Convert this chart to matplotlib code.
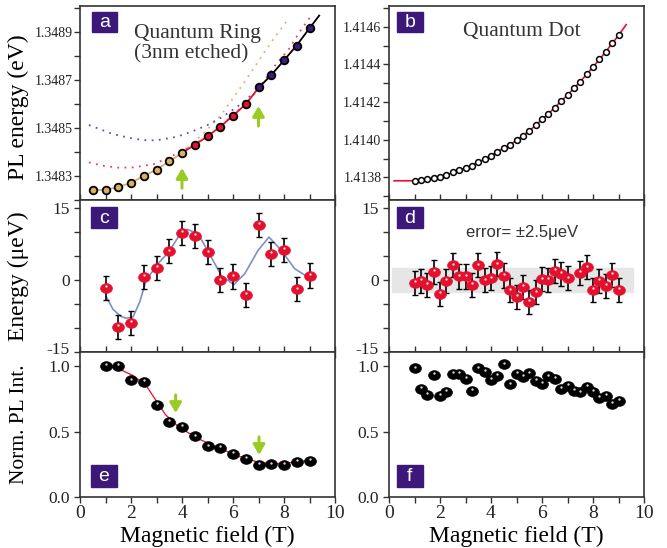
import numpy as np
import matplotlib
matplotlib.use("Agg")
import matplotlib.pyplot as plt
from matplotlib.ticker import MultipleLocator, FormatStrFormatter
from matplotlib.transforms import offset_copy, ScaledTranslation

plt.rcParams['font.family'] = ['Liberation Serif', 'DejaVu Serif']

# ---- panel a : quantum ring PL energy (eV) ----
ring_b = [0.5, 1.0, 1.5, 2.0, 2.5, 3.0, 3.5, 4.0, 4.5, 5.0, 5.5, 6.0,
          6.5, 7.0, 7.5, 8.0, 8.5, 9.0]
ring_e = [1.348242, 1.348243, 1.348254, 1.348271, 1.348301, 1.348326,
          1.348361, 1.348397, 1.348430, 1.348466, 1.348506, 1.348552,
          1.348599, 1.348670, 1.348722, 1.348783, 1.348845, 1.348917]
ring_state = ["t"] * 8 + ["r"] * 5 + ["p"] * 5

# dotted fit branches
fit_tan_b = [4.0, 4.5, 5.0, 5.5, 6.0, 6.5, 7.0, 7.5, 8.2]
fit_tan_e = [1.348397, 1.348445, 1.348495, 1.348550, 1.348625, 1.348700,
             1.348780, 1.348860, 1.348960]
fit_red_b = [0.35, 0.9, 1.5, 2.1, 2.9, 3.5, 4.0, 4.5, 5.5, 6.5, 7.0, 7.6,
             8.2, 8.6, 9.0]
fit_red_e = [1.348357, 1.348343, 1.348335, 1.348336, 1.348350, 1.348378,
             1.348405, 1.348432, 1.348508, 1.348602, 1.348665, 1.348755,
             1.348832, 1.348900, 1.348960]
fit_pur_b = [0.35, 1.3, 2.0, 2.5, 3.0, 3.8, 4.4, 5.0, 5.6, 6.2, 6.8]
fit_pur_e = [1.348513, 1.348475, 1.348458, 1.348450, 1.348449, 1.348464,
             1.348486, 1.348513, 1.348548, 1.348592, 1.348645]
# solid fit
sol_b = [0.5, 1.0, 1.5, 2.0, 2.5, 3.0, 3.5, 4.0, 4.5, 5.0, 5.5, 6.0, 6.5,
         7.0, 7.5, 8.0, 8.5, 9.0, 9.38]
sol_e = [1.348240, 1.348243, 1.348254, 1.348272, 1.348300, 1.348327,
         1.348361, 1.348397, 1.348430, 1.348466, 1.348506, 1.348552,
         1.348600, 1.348668, 1.348722, 1.348783, 1.348846, 1.348917,
         1.348970]

# ---- panel b : quantum dot PL energy (eV) ----
dot_b = [1.0, 1.25, 1.5, 1.75, 2.0, 2.25, 2.5, 2.75, 3.0, 3.25, 3.5, 3.75,
         4.0, 4.25, 4.5, 4.75, 5.0, 5.25, 5.5, 5.75, 6.0, 6.25, 6.5, 6.75,
         7.0, 7.25, 7.5, 7.75, 8.0, 8.25, 8.5, 8.75, 9.0]
dot_e = [1.413782, 1.413786, 1.413789, 1.413798, 1.413802, 1.413812,
         1.413827, 1.413837, 1.413852, 1.413862, 1.413882, 1.413896,
         1.413916, 1.413937, 1.413955, 1.413974, 1.413996, 1.414022,
         1.414047, 1.414076, 1.414108, 1.414138, 1.414170, 1.414205,
         1.414237, 1.414273, 1.414308, 1.414348, 1.414385, 1.414426,
         1.414467, 1.414511, 1.414554]
dot_fit_b = [0.2] + dot_b + [9.3]
dot_fit_e = [1.413782] + dot_e + [1.414611]

# ---- panel c : ring energy residual (ueV) ----
c_b = [1.0, 1.5, 2.0, 2.5, 3.0, 3.5, 4.0, 4.5, 5.0, 5.5, 6.0, 6.5, 7.0,
       7.5, 8.0, 8.5, 9.0]
c_e = [-1.7, -9.8, -9.0, 0.6, 2.5, 5.9, 9.8, 9.1, 5.7, -0.1, 0.7, -3.2,
       11.5, 5.4, 6.3, -2.0, 0.9]
c_err = 2.5
c_fit_b = [1.03, 1.29, 1.6, 1.82, 2.08, 2.35, 2.6, 3.06, 3.52, 3.9, 4.2,
           4.63, 5.15, 5.54, 6.03, 6.46, 6.98, 7.41, 7.9, 8.42, 9.0]
c_fit_e = [-3.5, -6.1, -7.6, -8.0, -7.7, -4.5, 0.0, 3.35, 6.1, 9.3, 10.5,
           9.6, 4.7, 0.9, -1.0, 1.26, 6.1, 8.9, 6.1, 2.3, 0.4]

# ---- panel d : dot energy residual (ueV) ----
d_b = [1.0, 1.25, 1.5, 1.75, 2.0, 2.25, 2.5, 2.75, 3.0, 3.25, 3.5, 3.75,
       4.0, 4.25, 4.5, 4.75, 5.0, 5.25, 5.5, 5.75, 6.0, 6.25, 6.5, 6.75,
       7.0, 7.5, 7.75, 8.0, 8.25, 8.5, 8.75, 9.0]
d_e = [-0.7, -0.3, -1.0, 1.7, -3.0, -0.3, 3.0, 0.7, 0.7, -1.0, 3.0, -0.1,
       0.3, 3.2, 0.9, -2.2, -3.5, -1.4, -4.6, -2.6, 0.1, 0.0, 1.8, 1.2,
       0.3, 1.4, 2.6, -2.1, -0.2, -1.2, 1.0, -2.1]
d_err = 2.5

# ---- panel e : ring normalized PL intensity ----
e_b = [1.0, 1.5, 2.0, 2.5, 3.0, 3.5, 4.0, 4.5, 5.0, 5.5, 6.0, 6.5, 7.0,
       7.5, 8.0, 8.5, 9.0]
e_i = [1.0, 1.0, 0.89, 0.876, 0.703, 0.574, 0.533, 0.462, 0.386, 0.373,
       0.332, 0.292, 0.244, 0.249, 0.246, 0.269, 0.277]
e_fit_b = [1.0, 1.5, 2.05, 2.58, 2.97, 3.36, 3.88, 4.67, 5.45, 6.24, 7.02,
           7.67, 8.33, 8.98]
e_fit_i = [0.995, 0.98, 0.93, 0.855, 0.74, 0.627, 0.533, 0.442, 0.373,
           0.31, 0.264, 0.254, 0.264, 0.279]

# ---- panel f : dot normalized PL intensity ----
f_b = dot_b
f_i = [0.982, 0.827, 0.782, 0.934, 0.769, 0.802, 0.942, 0.937, 0.901,
       0.810, 0.982, 0.954, 0.891, 0.924, 1.013, 0.860, 0.939, 0.919,
       0.944, 0.886, 0.865, 0.921, 0.904, 0.825, 0.848, 0.807, 0.799,
       0.843, 0.805, 0.759, 0.769, 0.711, 0.731]

TAN = '#d8b060'
RED = '#e4102e'
PUR = '#3a1d7c'
BOX = '#3c1878'
GREEN = '#99cc22'
INK = '#222222'

fig = plt.figure(figsize=(6.67, 5.48), dpi=100)
W, H = 667, 548


def add_ax(x0, y0, x1, y1):
    return fig.add_axes([x0 / W, 1 - y1 / H, (x1 - x0) / W, (y1 - y0) / H])


ax_a = add_ax(80, 6, 335, 200)
ax_b = add_ax(389, 6, 644, 200)
ax_c = add_ax(80, 200, 335, 352)
ax_d = add_ax(389, 200, 644, 352)
ax_e = add_ax(80, 352, 335, 497)
ax_f = add_ax(389, 352, 644, 497)

# ellipse marker (spheres look a bit flattened)
t = np.linspace(0, 2 * np.pi, 40)
ell = list(zip(np.cos(t), 0.82 * np.sin(t)))


def spheres(ax, x, y, color, ms):
    ax.plot(x, y, ls='none', marker=ell, ms=ms, mfc=color, mec=color,
            mew=0.5, zorder=4)
    hi = offset_copy(ax.transData, fig=fig, x=0, y=1.8, units='dots')
    ax.plot(x, y, ls='none', marker='o', ms=1.7, mfc='white', mec='none',
            alpha=0.85, transform=hi, zorder=5)


def label_box(ax, letter, x0, y0, x1, y1):
    ax.add_patch(plt.Rectangle((x0, y0), x1 - x0, y1 - y0,
                               transform=ax.transAxes, color=BOX,
                               zorder=6, clip_on=False))
    ax.text((x0 + x1) / 2, (y0 + y1) / 2 - 0.005, letter, color='white',
            fontsize=14, family='Liberation Sans', ha='center',
            va='center', transform=ax.transAxes, zorder=7)


def arrow(ax, x, y0, y1):
    ax.annotate('', xy=(x, y1), xytext=(x, y0),
                arrowprops=dict(arrowstyle='-|>,head_width=0.35,head_length=0.6',
                                color=GREEN, lw=2.2))


for ax in [ax_a, ax_b, ax_c, ax_d, ax_e, ax_f]:
    ax.set_xlim(0, 10)
    ax.xaxis.set_major_locator(MultipleLocator(2))
    ax.xaxis.set_minor_locator(MultipleLocator(1))
    ax.tick_params(which='both', direction='out', length=4, width=1,
                   color='#333333', labelcolor=INK)
    for s in ax.spines.values():
        s.set_color('#333333')
        s.set_linewidth(1.2)
    if ax not in (ax_e, ax_f):
        ax.tick_params(axis='x', which='both', labelbottom=False,
                       direction='inout', length=8)

# panel a
ax_a.plot(fit_tan_b, fit_tan_e, ls=(0, (1, 3)), color='#e0b070', lw=1.3)
ax_a.plot(fit_red_b, fit_red_e, ls=(0, (1, 3)), color='#f03c62', lw=1.3)
ax_a.plot(fit_pur_b, fit_pur_e, ls=(0, (1, 3)), color='#6a48c0', lw=1.3)
ax_a.plot(sol_b[:8], sol_e[:8], color='#d4b06a', lw=1.3, zorder=3)
ax_a.plot(sol_b[7:14], sol_e[7:14], color='#e8102a', lw=1.3, zorder=3)
ax_a.plot(sol_b[13:], sol_e[13:], color='black', lw=1.3, zorder=3)
cols = {'t': TAN, 'r': RED, 'p': PUR}
for st in 'trp':
    xs = [b for b, s in zip(ring_b, ring_state) if s == st]
    ys = [e for e, s in zip(ring_e, ring_state) if s == st]
    ax_a.plot(xs, ys, ls='none', marker='o', ms=5.5, mfc=cols[st],
              mec='black', mew=1.3, zorder=4)
arrow(ax_a, 4.0, 1.348238, 1.348345)
arrow(ax_a, 7.0, 1.348497, 1.348604)
ax_a.set_ylim(1.34820, 1.34901)
ax_a.set_yticks([1.3483, 1.3485, 1.3487, 1.3489])
ax_a.yaxis.set_minor_locator(MultipleLocator(0.0001))
ax_a.yaxis.set_major_formatter(FormatStrFormatter('%.4f'))
ax_a.tick_params(axis='y', labelsize=10, pad=1.5)
ax_a.text(0.21, 0.905, 'Quantum Ring\n(3nm etched)', transform=ax_a.transAxes,
          fontsize=15.5, color='#333333', ha='left', va='top', linespacing=1.05)
ax_a.set_ylabel('PL energy (eV)', fontsize=17)
ax_a.yaxis.set_label_coords(-0.2, 0.48)
label_box(ax_a, 'a', 0.046, 0.868, 0.146, 0.971)

# panel b
ax_b.plot(dot_fit_b, dot_fit_e, color='#e8102a', lw=1.2, zorder=3)
ax_b.plot(dot_b, dot_e, ls='none', marker='o', ms=4.2, mfc='white',
          mec='black', mew=1.1, zorder=4)
ax_b.set_ylim(1.41368, 1.41471)
ax_b.set_yticks([1.4138, 1.4140, 1.4142, 1.4144, 1.4146])
ax_b.yaxis.set_minor_locator(MultipleLocator(0.0001))
ax_b.yaxis.set_major_formatter(FormatStrFormatter('%.4f'))
ax_b.tick_params(axis='y', labelsize=10, pad=1.5)
ax_b.text(0.52, 0.868, 'Quantum Dot', transform=ax_b.transAxes,
          fontsize=15.5, color='#333333', ha='center', va='center')
label_box(ax_b, 'b', 0.03, 0.868, 0.132, 0.971)

# panel c
ax_c.plot(c_fit_b, c_fit_e, color='#7d8fca', lw=1.2, zorder=2)
ax_c.errorbar(c_b, c_e, yerr=c_err, fmt='none', ecolor='black',
              elinewidth=1.2, capsize=2, capthick=1, zorder=3)
spheres(ax_c, c_b, c_e, RED, 8.5)
ax_c.set_ylabel('Energy (\u03bceV)', fontsize=17)
ax_c.yaxis.set_label_coords(-0.2, 0.5)
label_box(ax_c, 'c', 0.043, 0.814, 0.144, 0.952)

# panel d
ax_d.axhspan(-d_err, d_err, xmin=0.01, xmax=0.955, color='#e6e6e6',
             zorder=0)
ax_d.errorbar(d_b, d_e, yerr=d_err, fmt='none', ecolor='black',
              elinewidth=1.2, capsize=2, capthick=1, zorder=3)
spheres(ax_d, d_b, d_e, RED, 8.5)
ax_d.text(5.2, 9.9, 'error= \u00b12.5\u03bceV', fontsize=12,
          family='Liberation Sans', color='#333333', ha='center',
          va='center')
label_box(ax_d, 'd', 0.03, 0.814, 0.132, 0.952)

lift = ScaledTranslation(0, 3 / 72, fig.dpi_scale_trans)
for ax in (ax_c, ax_d):
    ax.set_ylim(-15, 16.6)
    ax.set_yticks([-15, 0, 15])
    ax.set_yticklabels(['-15', '0', '15'])
    ax.yaxis.set_minor_locator(MultipleLocator(5))
    ax.tick_params(axis='y', labelsize=12.5)
    lbl = ax.get_yticklabels()[0]
    lbl.set_transform(lbl.get_transform() + lift)

# panel e
ax_e.plot(e_fit_b, e_fit_i, color='#e8203a', lw=1.0, zorder=2)
spheres(ax_e, e_b, e_i, 'black', 8.5)
arrow(ax_e, 3.75, 0.80, 0.62)
arrow(ax_e, 7.02, 0.48, 0.30)
ax_e.set_ylabel('Norm. PL Int.', fontsize=15.5)
ax_e.yaxis.set_label_coords(-0.2, 0.5)
label_box(ax_e, 'e', 0.043, 0.069, 0.145, 0.22)

# panel f
spheres(ax_f, f_b, f_i, 'black', 8.5)
label_box(ax_f, 'f', 0.03, 0.069, 0.132, 0.22)

for ax in (ax_e, ax_f):
    ax.set_ylim(0, 1.107)
    ax.set_yticks([0.0, 0.5, 1.0])
    ax.yaxis.set_major_formatter(FormatStrFormatter('%.1f'))
    ax.tick_params(axis='y', labelsize=12.5)
    ax.tick_params(axis='x', labelsize=14, pad=2)
    ax.set_xlabel('Magnetic field (T)', fontsize=17)
    ax.xaxis.set_label_coords(0.5, -0.2)

fig.savefig('out.png', dpi=100)
